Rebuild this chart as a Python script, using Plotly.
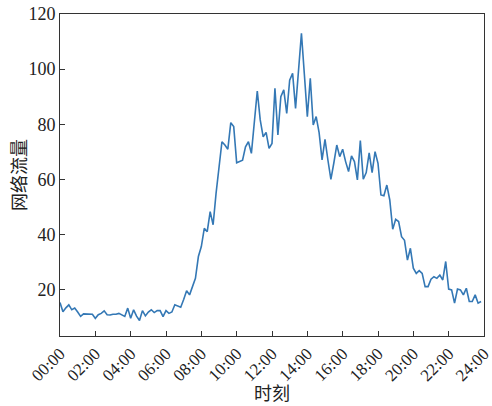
import plotly.graph_objects as go

# 10-minute samples, 00:00 .. 23:50
hours = [i / 6 for i in range(144)]
traffic = [
    15.4, 12.1, 13.5, 14.6, 12.8, 13.4, 12.0, 10.4, 11.3, 11.2,
    11.3, 11.2, 9.7, 11.0, 11.5, 12.4, 11.0, 10.9, 11.2, 11.2,
    11.5, 11.0, 10.4, 13.4, 9.7, 12.8, 10.5, 8.9, 12.5, 10.6,
    12.0, 12.8, 11.8, 12.5, 12.5, 10.3, 12.5, 11.5, 12.0, 14.6,
    14.0, 13.7, 16.5, 19.7, 18.2, 21.0, 24.2, 32.1, 35.7, 42.3,
    41.1, 48.4, 43.6, 55.0, 65.0, 73.7, 72.5, 71.0, 80.6, 79.2,
    66.1, 66.5, 67.0, 71.9, 73.7, 69.5, 81.0, 92.1, 81.6, 75.5,
    77.1, 71.3, 73.1, 93.1, 76.2, 90.0, 92.5, 84.0, 96.0, 98.5,
    85.8, 100.0, 113.0, 98.0, 82.8, 96.7, 79.8, 82.8, 77.0, 67.1,
    74.6, 67.0, 60.1, 66.0, 72.5, 68.3, 71.0, 66.5, 62.9, 68.6,
    66.5, 59.9, 74.1, 60.1, 62.5, 69.7, 62.5, 70.1, 65.9, 54.4,
    54.1, 58.0, 52.6, 42.0, 45.6, 44.8, 39.3, 38.0, 30.8, 35.1,
    27.9, 26.0, 27.0, 26.0, 21.2, 21.2, 23.9, 24.8, 24.2, 25.4,
    23.6, 30.3, 20.3, 20.0, 15.2, 20.3, 20.0, 18.2, 20.6, 15.8,
    15.8, 18.2, 15.2, 15.8,
]
tick_hours = list(range(0, 25, 2))
tick_labels = [f"{h:02d}:00" for h in tick_hours]
y_ticks = [20, 40, 60, 80, 100, 120]
x_title = "时刻"
y_title = "网络流量"

fig = go.Figure()
fig.add_trace(go.Scatter(x=hours, y=traffic, mode="lines",
                         line=dict(color="#3478b5", width=1.6),
                         showlegend=False))

font_family = "Liberation Serif, Times New Roman, serif"
cjk_font = dict(family="Noto Sans CJK SC", size=18, color="#222")
fig.update_layout(
    width=492, height=406,
    margin=dict(l=60, r=8, t=14, b=70),
    paper_bgcolor="white", plot_bgcolor="white",
    font=dict(family=font_family, size=17, color="#222"),
    annotations=[
        dict(text=x_title, xref="paper", yref="paper", x=0.5, y=-56 / 322,
             xanchor="center", yanchor="middle", showarrow=False, font=cjk_font),
        dict(text=y_title, xref="paper", yref="paper", x=-42 / 424, y=0.5,
             xanchor="center", yanchor="middle", showarrow=False, textangle=-90,
             font=cjk_font),
    ],
)
fig.update_xaxes(
    range=[0, 24], tickvals=tick_hours, ticktext=tick_labels,
    tickangle=-45, ticks="inside", ticklen=5, tickcolor="#333",
    showline=True, linecolor="#333", linewidth=1, mirror=True,
    showgrid=False, zeroline=False, automargin=False,
    ticklabeloverflow="allow",
    tickfont=dict(size=17),
)
fig.update_yaxes(
    range=[3.3, 120], tickvals=y_ticks,
    ticks="inside", ticklen=5, tickcolor="#333",
    showline=True, linecolor="#333", linewidth=1, mirror=True,
    showgrid=False, zeroline=False, automargin=False,
    ticklabeloverflow="allow",
    tickfont=dict(size=18),
)
fig.write_html(
    "out.html",
    config={"displayModeBar": False},
    post_script="document.body.style.margin='0';document.body.style.overflow='hidden';",
)
